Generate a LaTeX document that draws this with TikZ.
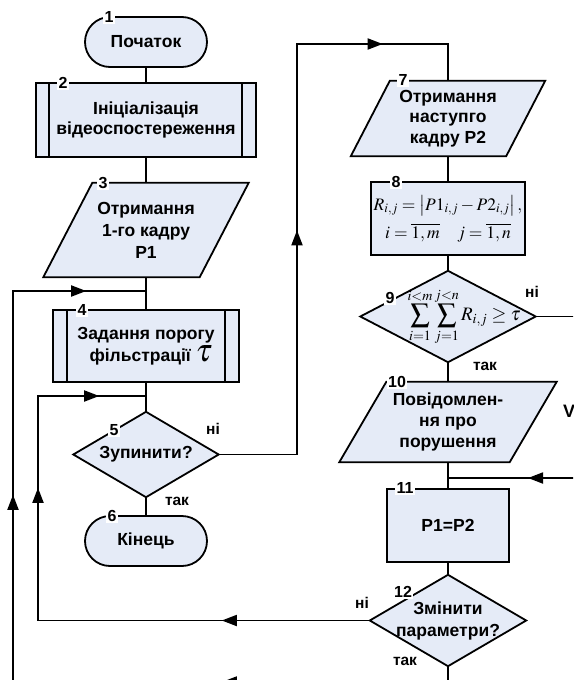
\documentclass[tikz,border=0pt]{standalone}
\usepackage{mathptmx}
\usepackage[no-math]{fontspec}
\setmainfont{Liberation Sans}
\usetikzlibrary{arrows.meta,decorations.markings,backgrounds}
\definecolor{fillc}{RGB}{229,235,247}
\begin{document}
\begin{tikzpicture}[x=1pt,y=-1pt,
  every node/.style={font=\fontsize{17.5}{22}\selectfont\bfseries, align=center, inner sep=0pt},
  shp/.style={draw=black, line width=1.8pt, fill=fillc},
  conn/.style={draw=black, line width=1.8pt},
  numlbl/.style={fill=white, inner sep=1.2pt, font=\fontsize{16}{16}\selectfont\bfseries},
  yn/.style={font=\fontsize{15.5}{16}\selectfont\bfseries},
  arrowat/.style={postaction={decorate,decoration={markings,mark=at position #1 with {\arrow{Triangle[length=15pt,width=11pt]}}}}}
]
\useasboundingbox (0,0) rectangle (573,680);
\clip (0,0) rectangle (573,680);

% nodes
\node[shp, rounded corners=25pt, minimum width=122pt, minimum height=50pt] (n1) at (146,42) {Початок};
\node[shp, minimum width=220pt, minimum height=74pt, font=\fontsize{17.5}{20.5}\selectfont\bfseries] (n2) at (146,120) {Ініціалізація\\відеоспостереження};
\node[minimum width=205pt, minimum height=94pt] (n3) at (146,230) {Отримання\\1-го кадру\\P1};
\node[shp, minimum width=186pt, minimum height=72pt] (n4) at (146,346) {Задання порогу\\\hspace*{10pt}фільстрації {\fontsize{32}{22}\selectfont$\tau$}};
\node[minimum width=145pt, minimum height=85pt] (d5) at (146,454.5) {Зупинити?};
\node[shp, rounded corners=25pt, minimum width=122pt, minimum height=50pt] (n6) at (146,541) {Кінець};
\node[minimum width=194pt, minimum height=75pt, font=\fontsize{17.5}{20.5}\selectfont\bfseries] (n7) at (448,118.5) {Отримання\\наступго\\кадру P2};
\node[shp, minimum width=154pt, minimum height=73pt, font=\fontsize{17.5}{28}\selectfont] (n8) at (448,218.5) {$R_{i,j}=\left|P1_{i,j}-P2_{i,j}\right|,$\\$i=\overline{1,m}\quad j=\overline{1,n}$};
\node[minimum width=175pt, minimum height=91pt, font=\fontsize{19}{20}\selectfont] (d9) at (448,316.5) {\hspace*{32pt}$\displaystyle\sum_{i=1}^{i<m}\sum_{j=1}^{j<n}R_{i,j}\ge\tau$};
\node[minimum width=217pt, minimum height=80pt, font=\fontsize{17.5}{21}\selectfont\bfseries] (n10) at (448,422) {Повідомлен-\\ня про\\порушення};
\node[shp, minimum width=122pt, minimum height=73pt] (n11) at (448,525.5) {P1=P2};
\node[minimum width=156pt, minimum height=91pt] (d12) at (448,620.5) {Змінити\\параметри?};

% shapes behind text
\begin{scope}[on background layer]
  \draw[shp] ([xshift=49pt]n3.north west) -- (n3.north east) -- ([xshift=-49pt]n3.south east) -- (n3.south west) -- cycle;
  \draw[shp] ([xshift=39pt]n7.north west) -- (n7.north east) -- ([xshift=-39pt]n7.south east) -- (n7.south west) -- cycle;
  \draw[shp] ([xshift=47pt]n10.north west) -- (n10.north east) -- ([xshift=-47pt]n10.south east) -- (n10.south west) -- cycle;
  \draw[shp] (d5.north) -- (d5.east) -- (d5.south) -- (d5.west) -- cycle;
  \draw[shp] (d9.north) -- (d9.east) -- (d9.south) -- (d9.west) -- cycle;
  \draw[shp] (d12.north) -- (d12.east) -- (d12.south) -- (d12.west) -- cycle;
\end{scope}

% inner lines of predefined process
\draw[conn] ([xshift=14pt]n2.north west) -- ([xshift=14pt]n2.south west);
\draw[conn] ([xshift=-15pt]n2.north east) -- ([xshift=-15pt]n2.south east);
\draw[conn] ([xshift=15pt]n4.north west) -- ([xshift=15pt]n4.south west);
\draw[conn] ([xshift=-15pt]n4.north east) -- ([xshift=-15pt]n4.south east);

% coordinates
\coordinate (j1) at (146,291);
\coordinate (j2) at (146,396);
\coordinate (j3) at (448,478);
\coordinate (c1) at (297,44);
\coordinate (c2) at (38,396);
\coordinate (c4) at (13,682);
\coordinate (c5) at (13,291);
\coordinate (e1) at (590,316.5);
\coordinate (e2) at (590,478);

% connectors
\draw[conn] (n1.south) -- (n2.north);
\draw[conn] (n2.south) -- (n3.north);
\draw[conn] (n3.south) -- (n4.north);
\draw[conn] (n4.south) -- (d5.north);
\draw[conn] (d5.south) -- (n6.north);
\draw[conn] (n7.south) -- (n8.north);
\draw[conn] (n8.south) -- (d9.north);
\draw[conn] (d9.south) -- (n10.north);
\draw[conn] (n10.south) -- (n11.north);
\draw[conn] (n11.south) -- (d12.north);
\draw[conn] (d9.east) -- (e1);
\draw[conn, arrowat=62pt] (e2) -- (j3);
\draw[conn, arrowat=302.5pt, arrowat=574.5pt] (d5.east) -| (c1) -| (n7.north);
\draw[conn, arrowat=148pt, arrowat=464.5pt, arrowat=617.5pt] (d12.west) -| (c2) -- (j2);
\draw[conn, arrowat=242pt, arrowat=638pt, arrowat=915pt] (d12.south) |- (c4) -- (c5) -- (j1);

% number labels
\node[numlbl] (l1) at (109,17) {1};
\node[numlbl] (l2) at (63,83) {2};
\node[numlbl] (l3) at (103,183) {3};
\node[numlbl] (l4) at (82,310) {4};
\node[numlbl] (l5) at (114,430) {5};
\node[numlbl] (l6) at (112,516) {6};
\node[numlbl] (l7) at (403,80) {7};
\node[numlbl] (l8) at (396,182) {8};
\node[numlbl] (l9) at (390,298) {9};
\node[numlbl] (l10) at (397,382) {10};
\node[numlbl] (l11) at (405,488) {11};
\node[numlbl] (l12) at (403,592) {12};

% yes/no labels
\node[yn] (y5n) at (213,429) {ні};
\node[yn] (y5y) at (177,501) {так};
\node[yn] (y9n) at (532,292) {ні};
\node[yn] (y9y) at (485,366) {так};
\node[yn] (y12n) at (362,603) {ні};
\node[yn] (y12y) at (405,661) {так};

% partial text at right edge
\node[font=\fontsize{18}{20}\selectfont\bfseries, anchor=west] (vtxt) at (563,411) {V};
\end{tikzpicture}
\end{document}
